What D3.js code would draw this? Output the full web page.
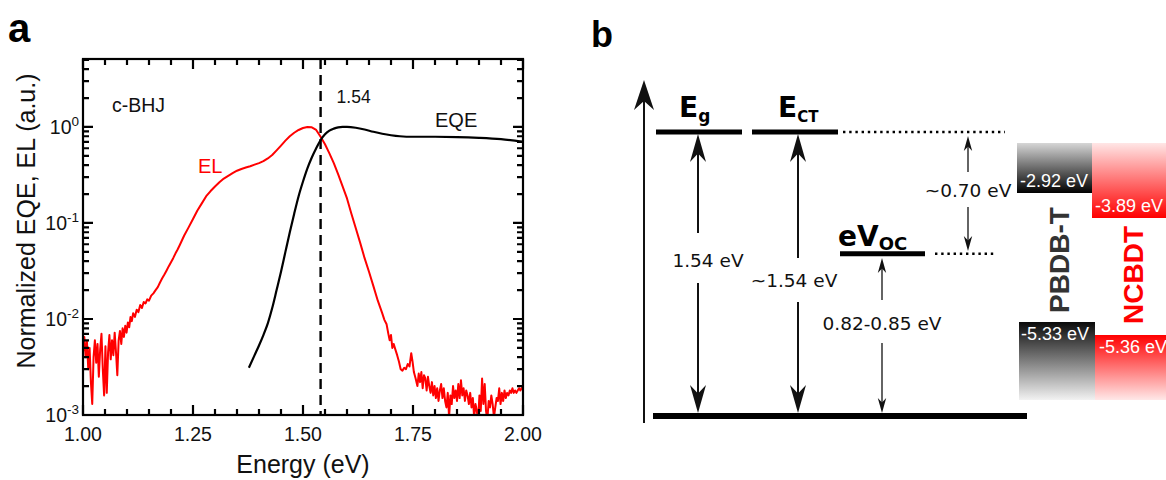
<!DOCTYPE html>
<html><head><meta charset="utf-8">
<script src="https://cdn.jsdelivr.net/npm/d3@7"></script>
<style>body{margin:0;background:#fff}svg{display:block}</style>
</head><body>
<svg id="c" width="1166" height="480"></svg>
<script>
// ---------------- Panel a data ----------------
const eqeEnergy = [1.377,1.390,1.400,1.410,1.420,1.430,1.440,1.450,1.460,1.470,1.480,1.490,1.500,1.510,1.520,1.530,1.540,1.550,1.560,1.570,1.580,1.590,1.600,1.620,1.640,1.660,1.680,1.700,1.720,1.750,1.800,1.850,1.900,1.950,2.000];
const eqeValue  = [0.0031,0.0042,0.0053,0.0068,0.0090,0.0130,0.0200,0.0310,0.0500,0.0800,0.125,0.190,0.270,0.370,0.480,0.600,0.730,0.840,0.915,0.960,0.990,1.000,1.000,0.980,0.940,0.890,0.850,0.820,0.800,0.790,0.790,0.785,0.770,0.745,0.700];

const elEnergy = [1.000,1.003,1.006,1.009,1.012,1.015,1.018,1.021,1.024,1.027,1.030,1.033,1.036,1.039,1.042,1.045,1.048,1.051,1.054,1.057,1.060,1.063,1.066,1.069,1.072,1.075,1.078,1.081,1.084,1.087,1.090,1.093,1.096,1.099,1.102,1.105,1.108,1.111,1.114,1.118,1.122,1.126,1.130,1.134,1.138,1.142,1.146,1.150,1.155,1.160,1.165,1.170,1.175,1.180,1.185,1.190,1.195,1.200,1.205,1.210,1.215,1.220,1.225,1.230,1.240,1.250,1.260,1.270,1.280,1.290,1.300,1.310,1.320,1.330,1.340,1.350,1.360,1.370,1.380,1.390,1.400,1.410,1.420,1.430,1.440,1.450,1.460,1.470,1.480,1.490,1.500,1.510,1.520,1.530,1.540,1.550,1.560,1.570,1.580,1.590,1.600,1.610,1.620,1.630,1.640,1.650,1.660,1.670,1.680,1.685,1.690,1.694,1.697,1.700,1.703,1.706,1.710,1.714,1.718,1.722,1.726,1.730,1.734,1.738,1.742,1.746,1.749,1.752,1.756,1.760,1.763,1.766,1.769,1.772,1.775,1.778,1.781,1.784,1.787,1.790,1.793,1.796,1.799,1.802,1.805,1.808,1.811,1.814,1.817,1.820,1.823,1.826,1.829,1.832,1.835,1.838,1.841,1.844,1.847,1.850,1.853,1.856,1.859,1.862,1.865,1.868,1.871,1.874,1.877,1.880,1.883,1.886,1.889,1.892,1.895,1.898,1.901,1.904,1.907,1.910,1.913,1.916,1.919,1.922,1.925,1.928,1.931,1.934,1.937,1.940,1.943,1.946,1.949,1.952,1.955,1.958,1.961,1.964,1.967,1.970,1.973,1.976,1.979,1.982,1.985,1.988,1.991,1.994,1.997,2.000];
const elValue = [0.0045,0.0065,0.0040,0.0058,0.0030,0.0050,0.0022,0.0013,0.0040,0.0060,0.0035,0.0055,0.0025,0.0048,0.0070,0.0030,0.0016,0.0052,0.0017,0.0045,0.0068,0.0038,0.0060,0.0042,0.0072,0.0045,0.0026,0.0060,0.0075,0.0055,0.0080,0.0065,0.0085,0.0072,0.0092,0.0082,0.0105,0.0095,0.0115,0.0105,0.0125,0.0118,0.0140,0.0130,0.0150,0.0145,0.0160,0.0155,0.0175,0.0185,0.0200,0.0215,0.0240,0.0265,0.0290,0.0320,0.0355,0.0390,0.0430,0.0480,0.0530,0.0590,0.0660,0.0740,0.090,0.110,0.135,0.160,0.190,0.215,0.240,0.265,0.290,0.310,0.330,0.350,0.365,0.378,0.390,0.405,0.420,0.440,0.470,0.510,0.570,0.640,0.720,0.800,0.870,0.930,0.975,1.000,0.990,0.930,0.790,0.660,0.530,0.420,0.320,0.240,0.180,0.125,0.088,0.062,0.043,0.031,0.022,0.0155,0.0115,0.0098,0.0088,0.0070,0.0060,0.0068,0.0050,0.0055,0.0048,0.0042,0.0036,0.0030,0.0029,0.0031,0.0030,0.0034,0.0032,0.0044,0.0036,0.0028,0.0024,0.0020,0.0027,0.0022,0.0028,0.0019,0.0026,0.0024,0.0018,0.0025,0.0020,0.0017,0.0022,0.0016,0.0020,0.0015,0.0019,0.0014,0.0018,0.0021,0.0015,0.0019,0.0014,0.0012,0.0017,0.00095,0.0016,0.0013,0.0020,0.0015,0.0018,0.0014,0.0021,0.0015,0.0023,0.0016,0.0019,0.0014,0.0018,0.0016,0.0013,0.0017,0.0012,0.0015,0.00095,0.0013,0.0011,0.0009,0.0016,0.0011,0.0024,0.0013,0.0021,0.0011,0.0009,0.0014,0.0012,0.0016,0.0013,0.00095,0.0012,0.0015,0.0014,0.0019,0.0013,0.0017,0.0014,0.0018,0.0015,0.0017,0.0016,0.0018,0.0017,0.0019,0.0017,0.0018,0.0017,0.0018,0.0019,0.0018,0.0019,0.0020];

const xTickValues = [1.00, 1.25, 1.50, 1.75, 2.00];
const yTickExponents = [0, -1, -2, -3];
const markerEnergy = 1.54;
const markerLabel = "1.54";

// ---------------- Panel b data ----------------
const levelNames = ["E", "E", "eV"];
const levelSubs = ["g", "CT", "OC"];
const levelEnergies = [1.54, 1.54, 0.88];      // schematic position
const gapLabels = ["1.54 eV", "~1.54 eV", "0.82-0.85 eV"];
const offsetLabel = "~0.70 eV";
const materials = ["PBDB-T", "NCBDT"];
const lumoLabels = ["-2.92 eV", "-3.89 eV"];
const homoLabels = ["-5.33 eV", "-5.36 eV"];

// ---------------- Layout ----------------
const svg = d3.select("#c");
const SANS = "'Liberation Sans', Arial, sans-serif";
const DEJ = "'DejaVu Sans', Verdana, sans-serif";

const pa = {l: 83, r: 523, t: 59, b: 415};
const xS = d3.scaleLinear().domain([1, 2]).range([pa.l, pa.r]);
const yS = d3.scaleLog().domain([1e-3, 5.1]).range([pa.b, pa.t]);

const defs = svg.append("defs");
defs.append("clipPath").attr("id", "clipA").append("rect")
  .attr("x", pa.l).attr("y", pa.t).attr("width", pa.r - pa.l).attr("height", pa.b - pa.t);

const A = svg.append("g");

const minorX = d3.range(1, 2.0001, 0.05).map(v => +v.toFixed(2)).filter(v => !xTickValues.some(t => Math.abs(t - v) < 1e-6));
const majorY = yTickExponents.map(e => Math.pow(10, e));
const minorY = [];
for (let e = -3; e <= 0; e++) for (let m = 2; m <= 9; m++) { const v = m * Math.pow(10, e); if (v <= 5.1) minorY.push(v); }

// tick labels
A.selectAll(null).data(xTickValues).join("text")
  .attr("x", d => xS(d)).attr("y", 441).attr("text-anchor", "middle")
  .attr("font-family", SANS).attr("font-size", 19.5).attr("fill", "#111").text(d3.format(".2f"));
A.selectAll(null).data(majorY).join("text")
  .attr("x", pa.l - 4).attr("y", d => yS(d) + 7).attr("text-anchor", "end")
  .attr("font-family", SANS).attr("font-size", 19.5).attr("fill", "#111")
  .each(function(d) {
    const t = d3.select(this);
    t.append("tspan").text("10");
    t.append("tspan").attr("font-size", 13.5).attr("dy", "-0.6em").text(Math.round(Math.log10(d)));
  });

// curves
const lineGen = d3.line().x(d => xS(d[0])).y(d => yS(d[1]));
A.append("path").datum(d3.zip(elEnergy, elValue)).attr("d", lineGen).attr("clip-path", "url(#clipA)")
  .attr("fill", "none").attr("stroke", "#ff0000").attr("stroke-width", 2).attr("stroke-linejoin", "round");
A.append("path").datum(d3.zip(eqeEnergy, eqeValue)).attr("d", lineGen.curve(d3.curveMonotoneX)).attr("clip-path", "url(#clipA)")
  .attr("fill", "none").attr("stroke", "#000").attr("stroke-width", 2.2);

// dashed marker
A.append("line").attr("x1", xS(markerEnergy)).attr("x2", xS(markerEnergy)).attr("y1", pa.t).attr("y2", pa.b)
  .attr("stroke", "#000").attr("stroke-width", 2.4).attr("stroke-dasharray", "10,6");

// frame
A.append("rect").attr("x", pa.l).attr("y", pa.t).attr("width", pa.r - pa.l).attr("height", pa.b - pa.t)
  .attr("fill", "none").attr("stroke", "#000").attr("stroke-width", 2.2);

// ticks (inward on all four sides) as one path built from the scales
let tickD = "";
function addX(vals, len) {
  vals.forEach(v => { const px = xS(v); tickD += `M${px},${pa.b}V${pa.b - len}M${px},${pa.t}V${pa.t + len}`; });
}
function addY(vals, len) {
  vals.forEach(v => { const py = yS(v); tickD += `M${pa.l},${py}H${pa.l + len}M${pa.r},${py}H${pa.r - len}`; });
}
addX(minorX, 6); addX(xTickValues, 10);
addY(minorY, 6); addY(majorY, 10);
A.append("path").attr("d", tickD).attr("fill", "none").attr("stroke", "#000").attr("stroke-width", 2.2);

// labels
A.append("text").attr("x", xS(markerEnergy) + 16).attr("y", 103).attr("font-family", SANS).attr("font-size", 17.5).attr("fill", "#111").text(markerLabel);
A.append("text").attr("x", 112).attr("y", 112).attr("font-family", SANS).attr("font-size", 19.5).attr("fill", "#111").text("c-BHJ");
A.append("text").attr("x", 435).attr("y", 127).attr("font-family", SANS).attr("font-size", 20).attr("fill", "#111").text("EQE");
A.append("text").attr("x", 198).attr("y", 173).attr("font-family", SANS).attr("font-size", 20).attr("fill", "#ff0000").text("EL");

A.append("text").attr("x", (pa.l + pa.r) / 2).attr("y", 473).attr("text-anchor", "middle")
  .attr("font-family", SANS).attr("font-size", 25).attr("fill", "#111").text("Energy (eV)");
A.append("text").attr("transform", "translate(35,221) rotate(-90)").attr("text-anchor", "middle")
  .attr("font-family", SANS).attr("font-size", 25).attr("fill", "#111").text("Normalized EQE, EL (a.u.)");

svg.append("text").attr("x", 8).attr("y", 42).attr("font-family", SANS).attr("font-weight", "bold").attr("font-size", 40).attr("fill", "#000").text("a");
svg.append("text").attr("x", 591).attr("y", 47).attr("font-family", SANS).attr("font-weight", "bold").attr("font-size", 36).attr("fill", "#000").text("b");

// ---------------- Panel b ----------------
const B = svg.append("g");
const yb = d3.scaleLinear().domain([0, 1.54]).range([416, 132]);
const levelX = [[656, 742], [752, 838], [840, 925]];
const arrowX = [698, 798, 882];
const INK = "#111";

function head(g, xc, tip, dir, L, w) {
  const base = tip - dir * L, notch = tip - dir * L * 0.7;
  g.append("path").attr("d", `M${xc},${tip}L${xc - w},${base}L${xc},${notch}L${xc + w},${base}Z`).attr("fill", INK);
}
function arrow(g, xc, from, tip, L, w, sw) {
  const dir = tip < from ? -1 : 1;
  g.append("line").attr("x1", xc).attr("x2", xc).attr("y1", from).attr("y2", tip - dir * L * 0.6)
    .attr("stroke", INK).attr("stroke-width", sw);
  head(g, xc, tip, dir, L, w);
}

arrow(B, 644, 423, 80, 30, 10, 2);
B.append("line").attr("x1", 653).attr("x2", 1027).attr("y1", yb(0)).attr("y2", yb(0)).attr("stroke", "#000").attr("stroke-width", 6);

levelEnergies.forEach((e, i) => {
  B.append("line").attr("x1", levelX[i][0]).attr("x2", levelX[i][1]).attr("y1", yb(e)).attr("y2", yb(e))
    .attr("stroke", "#000").attr("stroke-width", 5);
});
B.append("line").attr("x1", 843).attr("x2", 1005).attr("y1", yb(levelEnergies[1])).attr("y2", yb(levelEnergies[1]))
  .attr("stroke", "#000").attr("stroke-width", 2.4).attr("stroke-dasharray", "2.4,3.8");
B.append("line").attr("x1", 935).attr("x2", 995).attr("y1", yb(levelEnergies[2])).attr("y2", yb(levelEnergies[2]))
  .attr("stroke", "#000").attr("stroke-width", 2.4).attr("stroke-dasharray", "2.4,3.8");

const lblLayout = [
  {x: 679, y: 117, fs: 28, sfs: 17, dy: 5},
  {x: 778, y: 117, fs: 28, sfs: 15, dy: 5},
  {x: 838, y: 246, fs: 28, sfs: 18, dy: 4}
];
levelNames.forEach((n, i) => {
  const L = lblLayout[i];
  const t = B.append("text").attr("x", L.x).attr("y", L.y)
    .attr("font-family", DEJ).attr("font-weight", "bold").attr("font-size", L.fs).attr("fill", "#000");
  t.append("tspan").text(n);
  t.append("tspan").attr("font-size", L.sfs).attr("dy", L.dy).text(levelSubs[i]);
});

const gapLayout = [
  {up: [233, 134], down: [283, 413], ty: 267, dx: 10, L: 28, w: 8, sw: 2},
  {up: [258, 134], down: [302, 413], ty: 287, dx: -4, L: 28, w: 8, sw: 2},
  {up: [300, 258], down: [343, 413], ty: 330, dx: 0, L: 15, w: 4.2, sw: 1.3}
];
gapLayout.forEach((g, i) => {
  arrow(B, arrowX[i], g.up[0], g.up[1], g.L, g.w, g.sw);
  arrow(B, arrowX[i], g.down[0], g.down[1], g.L, g.w, g.sw);
  B.append("text").attr("x", arrowX[i] + g.dx).attr("y", g.ty).attr("text-anchor", "middle")
    .attr("font-family", DEJ).attr("font-size", 18.5).attr("fill", INK).text(gapLabels[i]);
});
arrow(B, 968, 172, 136, 15, 4.2, 1.3);
arrow(B, 968, 207, 251, 15, 4.2, 1.3);
B.append("text").attr("x", 968).attr("y", 197).attr("text-anchor", "middle")
  .attr("font-family", DEJ).attr("font-size", 18.5).attr("fill", INK).text(offsetLabel);

function grad(id, c0, c1) {
  const lg = defs.append("linearGradient").attr("id", id).attr("x1", 0).attr("y1", 0).attr("x2", 0).attr("y2", 1);
  lg.append("stop").attr("offset", "0%").attr("stop-color", c0);
  lg.append("stop").attr("offset", "100%").attr("stop-color", c1);
}
grad("gLumoD", "#d6d6d6", "#000000");
grad("gLumoA", "#ffe6e6", "#ff0000");
grad("gHomoD", "#0a0a0a", "#f2f2f2");
grad("gHomoA", "#ff0000", "#ffe8e8");

const boxes = [
  {x0: 1017, x1: 1092, y0: 143, y1: 193, fill: "url(#gLumoD)", label: lumoLabels[0], tx: 1020, ty: 187},
  {x0: 1092, x1: 1166, y0: 143, y1: 218, fill: "url(#gLumoA)", label: lumoLabels[1], tx: 1095, ty: 212},
  {x0: 1019, x1: 1095, y0: 322, y1: 400, fill: "url(#gHomoD)", label: homoLabels[0], tx: 1021, ty: 340},
  {x0: 1095, x1: 1166, y0: 335, y1: 400, fill: "url(#gHomoA)", label: homoLabels[1], tx: 1099, ty: 353}
];
boxes.forEach(b => {
  B.append("rect").attr("x", b.x0).attr("y", b.y0).attr("width", b.x1 - b.x0).attr("height", b.y1 - b.y0).attr("fill", b.fill);
  B.append("text").attr("x", b.tx).attr("y", b.ty).attr("font-family", SANS).attr("font-size", 18).attr("fill", "#fff").text(b.label);
});

const matLayout = [{cx: 1059, cy: 260, color: "#333333"}, {cx: 1133, cy: 275, color: "#ff0000"}];
materials.forEach((m, i) => {
  B.append("text").attr("transform", `translate(${matLayout[i].cx},${matLayout[i].cy}) rotate(-90)`)
    .attr("text-anchor", "middle").attr("dy", "0.36em")
    .attr("font-family", SANS).attr("font-weight", "bold").attr("font-size", 28).attr("fill", matLayout[i].color).text(m);
});
</script>
</body></html>
